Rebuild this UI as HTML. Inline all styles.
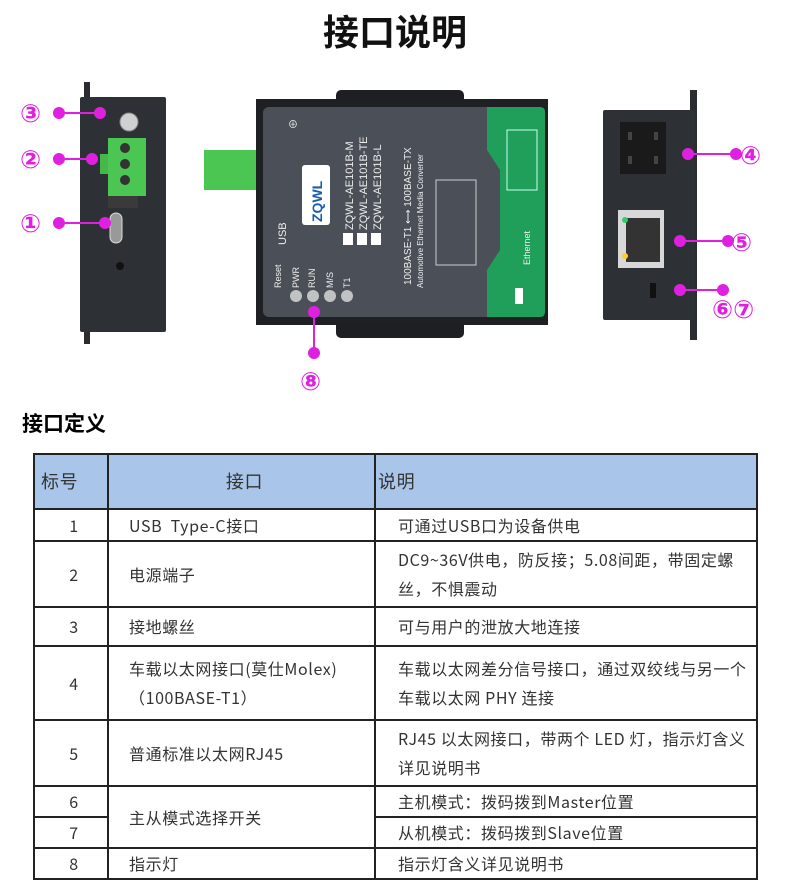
<!DOCTYPE html>
<html><head><meta charset="utf-8"><style>
body{margin:0;width:790px;height:876px;background:#fff;font-family:"Liberation Sans","Noto Sans CJK SC",sans-serif;overflow:hidden;position:relative}
h1{position:absolute;left:0;width:790px;top:4px;margin:0;text-align:center;font-size:36px;font-weight:bold;color:#111;font-family:"Noto Sans CJK SC",sans-serif}
h2{position:absolute;left:22px;top:408px;margin:0;font-size:21px;font-weight:bold;font-family:"Noto Sans CJK SC",sans-serif}
svg{position:absolute;left:0;top:0}
table{position:absolute;left:33px;top:453px;border-collapse:collapse;font-family:"Noto Sans CJK SC",sans-serif;font-size:16px;letter-spacing:0.6px;color:#333}
td{border:2px solid #222;padding:0 0 0 6px;line-height:29px}
</style></head><body>
<h1>接口说明</h1>
<svg width="790" height="400" viewBox="0 0 790 400" font-family="Liberation Sans, Noto Sans CJK SC, sans-serif">
<rect x="84" y="82" width="6" height="262" fill="#2a2c30"/>
<rect x="80" y="97" width="86" height="235" fill="#2d3035" rx="2"/>
<circle cx="129" cy="122" r="9" fill="#cfd0d2" stroke="#888"/>
<rect x="100" y="154" width="10" height="20" fill="#45b84a"/>
<rect x="108" y="138" width="38" height="58" fill="#4cc653"/>
<circle cx="125" cy="148" r="5" fill="#333"/><circle cx="125" cy="164" r="5" fill="#333"/><circle cx="125" cy="180" r="5" fill="#333"/>
<rect x="108" y="196" width="30" height="12" fill="#3a3a3a"/>
<rect x="110" y="213" width="12" height="30" rx="6" fill="#999" stroke="#ddd"/>
<circle cx="120" cy="266" r="4" fill="#111"/>
<rect x="336" y="90" width="128" height="14" rx="5" fill="#1e1f22"/>
<rect x="336" y="320" width="128" height="18" rx="5" fill="#1e1f22"/>
<rect x="204" y="150" width="52" height="40" fill="#4cc653"/>
<rect x="256" y="99" width="292" height="226" fill="#1f2023"/>
<rect x="263" y="107" width="282" height="210" rx="6" fill="#4b5058"/>
<path d="M487 107 H540 Q545 107 545 112 V312 Q545 317 540 317 H487 V270 L500 250 V170 L487 150 Z" fill="#1f9f5a"/>
<rect x="302" y="165" width="28" height="60" rx="3" fill="#fff"/>
<text transform="translate(322,222) rotate(-90)" font-size="14" font-weight="bold" fill="#1a5cb0">ZQWL</text>
<text x="288" y="128" font-size="10" fill="#eee">⊕</text>
<g fill="#eee" font-size="11">
<text transform="translate(286,245) rotate(-90)">USB</text>
<text transform="translate(281,288) rotate(-90)" font-size="9">Reset</text>
<text transform="translate(299,288) rotate(-90)" font-size="9">PWR</text>
<text transform="translate(315,288) rotate(-90)" font-size="9">RUN</text>
<text transform="translate(333,288) rotate(-90)" font-size="9">M/S</text>
<text transform="translate(350,288) rotate(-90)" font-size="9">T1</text>
<text transform="translate(353,230) rotate(-90)">ZQWL-AE101B-M</text>
<text transform="translate(367,230) rotate(-90)">ZQWL-AE101B-TE</text>
<text transform="translate(381,230) rotate(-90)">ZQWL-AE101B-L</text>
<text transform="translate(411,285) rotate(-90)" font-size="10">100BASE-T1 ⟷ 100BASE-TX</text>
<text transform="translate(423,288) rotate(-90)" font-size="8">Automotive Ethernet Media Converter</text>
<text transform="translate(530,265) rotate(-90)" font-size="9">Ethernet</text>
</g>
<rect x="436" y="180" width="40" height="85" fill="none" stroke="#ccc" stroke-width="1"/>
<rect x="507" y="130" width="30" height="60" fill="none" stroke="#cfe" stroke-width="1"/>
<rect x="515" y="288" width="8" height="16" fill="#fff"/>
<rect x="343" y="233" width="10" height="12" fill="#fff"/><rect x="357" y="233" width="10" height="12" fill="#fff"/><rect x="371" y="233" width="10" height="12" fill="#fff"/>
<g fill="#c0c2c4"><circle cx="296" cy="296" r="6"/><circle cx="313" cy="296" r="6"/><circle cx="330" cy="296" r="6"/><circle cx="347" cy="296" r="6"/></g>
<rect x="690" y="90" width="7" height="250" fill="#2a2c30"/>
<rect x="603" y="110" width="92" height="210" fill="#2d3035" rx="2"/>
<rect x="620" y="122" width="46" height="52" fill="#1a1a1b"/>
<g fill="#444"><rect x="628" y="132" width="4" height="8"/><rect x="654" y="132" width="4" height="8"/><rect x="628" y="156" width="4" height="8"/><rect x="654" y="156" width="4" height="8"/></g>
<rect x="618" y="210" width="46" height="58" fill="#d8d8d8"/>
<rect x="626" y="218" width="34" height="44" fill="#333"/>
<circle cx="625" cy="220" r="3" fill="#3c6"/><circle cx="625" cy="256" r="3" fill="#fc3"/>
<rect x="650" y="283" width="6" height="15" fill="#111"/>
<g stroke="#e020e0" stroke-width="2" fill="#e020e0">
<line x1="59" y1="113" x2="100" y2="113"/><circle cx="59" cy="113" r="5"/><circle cx="100" cy="113" r="5"/>
<line x1="59" y1="159" x2="92" y2="159"/><circle cx="59" cy="159" r="5"/><circle cx="92" cy="159" r="5"/>
<line x1="59" y1="223" x2="105" y2="223"/><circle cx="59" cy="223" r="5"/><circle cx="105" cy="223" r="5"/>
<line x1="314" y1="312" x2="314" y2="353"/><circle cx="314" cy="312" r="5"/><circle cx="314" cy="353" r="5"/>
<line x1="688" y1="154" x2="736" y2="154"/><circle cx="688" cy="154" r="5"/><circle cx="736" cy="154" r="5"/>
<line x1="680" y1="241" x2="728" y2="241"/><circle cx="680" cy="241" r="5"/><circle cx="728" cy="241" r="5"/>
<line x1="680" y1="290" x2="723" y2="290"/><circle cx="680" cy="290" r="5"/><circle cx="723" cy="290" r="5"/>
</g>
<g fill="#e020e0" font-size="25" font-weight="bold" font-family="DejaVu Sans, sans-serif">
<text x="20" y="122">③</text><text x="20" y="168">②</text><text x="20" y="232">①</text>
<text x="300" y="390">⑧</text><text x="740" y="164">④</text><text x="731" y="251">⑤</text><text x="712" y="318">⑥⑦</text>
</g>
</svg>
<h2>接口定义</h2>
<table>
<tr style="background:#a9c6ea;height:55px;font-size:18px"><td style="width:66px">标号</td><td style="width:259px;text-align:center">接口</td><td style="width:378px;padding-left:2px">说明</td></tr>
<tr style="height:32px"><td style="text-align:center">1</td><td style="padding-left:20px">USB&nbsp; Type-C接口</td><td style="padding-left:22px">可通过USB口为设备供电</td></tr>
<tr style="height:66px"><td style="text-align:center">2</td><td style="padding-left:20px">电源端子</td><td style="padding-left:22px">DC9~36V供电，防反接；5.08间距，带固定螺丝，不惧震动</td></tr>
<tr style="height:39px"><td style="text-align:center">3</td><td style="padding-left:20px">接地螺丝</td><td style="padding-left:22px">可与用户的泄放大地连接</td></tr>
<tr style="height:74px"><td style="text-align:center">4</td><td style="padding-left:20px">车载以太网接口(莫仕Molex)（100BASE-T1）</td><td style="padding-left:22px">车载以太网差分信号接口，通过双绞线与另一个车载以太网 PHY 连接</td></tr>
<tr style="height:66px"><td style="text-align:center">5</td><td style="padding-left:20px">普通标准以太网RJ45</td><td style="padding-left:22px">RJ45 以太网接口，带两个 LED 灯，指示灯含义详见说明书</td></tr>
<tr style="height:30px"><td style="text-align:center">6</td><td rowspan="2" style="padding-left:20px">主从模式选择开关</td><td style="padding-left:22px">主机模式：拨码拨到Master位置</td></tr>
<tr style="height:28px"><td style="text-align:center">7</td><td style="padding-left:22px">从机模式：拨码拨到Slave位置</td></tr>
<tr style="height:30px"><td style="text-align:center">8</td><td style="padding-left:20px">指示灯</td><td style="padding-left:22px">指示灯含义详见说明书</td></tr>
</table>
</body></html>
